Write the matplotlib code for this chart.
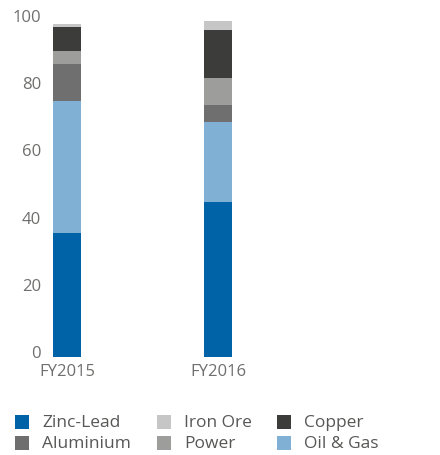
import matplotlib
matplotlib.use("Agg")
import matplotlib.pyplot as plt
import matplotlib.transforms as mtransforms
from matplotlib.patches import Rectangle
import numpy as np

categories = ["FY2015", "FY2016"]
series_names = ["Zinc-Lead", "Oil & Gas", "Aluminium", "Power", "Copper", "Iron Ore"]
zinc_lead = [36.9, 46.1]
oil_gas = [39.3, 23.8]
aluminium = [11.0, 5.1]
power = [3.9, 8.0]
copper = [7.1, 14.3]
iron_ore = [0.9, 3.0]
y_ticks = [0, 20, 40, 60, 80, 100]

colors = {
    "Zinc-Lead": "#0063A8",
    "Oil & Gas": "#80B1D4",
    "Aluminium": "#6F6F6F",
    "Power": "#9D9D9C",
    "Copper": "#3C3C3B",
    "Iron Ore": "#C6C6C6",
}
values = [zinc_lead, oil_gas, aluminium, power, copper, iron_ore]

plt.rcParams['font.family'] = ['Open Sans', 'DejaVu Sans']
W, H = 440, 456
fig = plt.figure(figsize=(W / 100, H / 100), dpi=100)

# axes placement in pixels
left_px, right_px = 48, 250
bottom_px, top_px = 358, 22
ax = fig.add_axes([left_px / W, (H - bottom_px) / H, (right_px - left_px) / W, (bottom_px - top_px) / H])

x = np.arange(len(categories))
bottom = np.zeros(len(categories))
for name, vals in zip(series_names, values):
    ax.bar(x, vals, bottom=bottom, width=0.185, color=colors[name], linewidth=0)
    bottom += np.array(vals)

unit = 151.0
ax.set_xlim(-(67 - left_px) / unit, (right_px - 67) / unit)
ax.set_ylim(0, 100)
ax.set_yticks(y_ticks)
ax.set_yticklabels([str(t) for t in y_ticks])
ax.set_xticks(x)
ax.set_xticklabels(categories)
for s in ax.spines.values():
    s.set_visible(False)
ax.tick_params(axis='both', length=0, colors="#6F6F6E", labelsize=12)
ax.tick_params(axis='y', pad=5)
ax.tick_params(axis='x', pad=4)
off = mtransforms.ScaledTranslation(0, 6 / 100, fig.dpi_scale_trans)
for lbl in ax.get_yticklabels():
    lbl.set_transform(lbl.get_transform() + off)
    lbl.set_horizontalalignment('right')

# legend (row-wise)
legend_rows = [["Zinc-Lead", "Iron Ore", "Copper"], ["Aluminium", "Power", "Oil & Gas"]]
col_x = [15, 157, 277]
row_y = [423, 444]
sq = 14
for r, row in enumerate(legend_rows):
    for c, name in enumerate(row):
        x0 = col_x[c]
        yc = row_y[r]
        fig.patches.append(Rectangle((x0 / W, (H - yc - sq / 2) / H), sq / W, sq / H,
                                     transform=fig.transFigure, color=colors[name], linewidth=0))
        fig.text((x0 + 27) / W, (H - yc) / H, name, ha='left', va='center',
                 fontsize=12.5, color="#575756")

fig.savefig("out.png", dpi=100)
